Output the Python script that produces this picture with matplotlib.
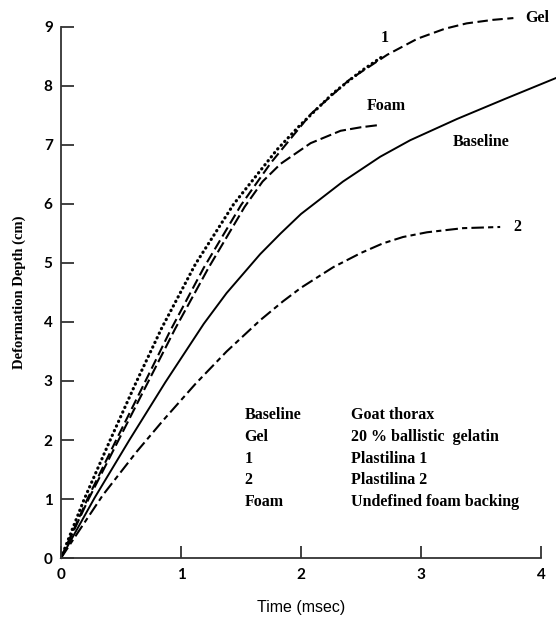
import matplotlib.pyplot as plt
import numpy as np

# values (time in msec, depth in cm)
base_t = [0, 0.28, 0.57, 0.87, 1.19, 1.38, 1.66, 1.83, 2.0, 2.35, 2.66, 2.91, 3.3, 3.7, 4.0, 4.12]
base_d = [0, 1.02, 2.0, 2.98, 3.97, 4.49, 5.15, 5.5, 5.83, 6.38, 6.8, 7.08, 7.44, 7.78, 8.03, 8.13]

gel_t = [0, 0.22, 0.46, 0.68, 0.91, 1.19, 1.5, 1.75, 2.08, 2.4, 2.72, 2.97, 3.2, 3.38, 3.6, 3.77]
gel_d = [0, 1.0, 2.0, 2.9, 3.85, 4.92, 5.98, 6.7, 7.52, 8.1, 8.53, 8.8, 8.97, 9.06, 9.12, 9.15]

p1_t = [0, 0.19, 0.41, 0.62, 0.84, 1.12, 1.44, 1.8, 1.99, 2.27, 2.5, 2.68]
p1_d = [0, 0.98, 2.0, 2.95, 3.9, 4.98, 6.0, 6.92, 7.33, 7.88, 8.25, 8.5]

p2_t = [0, 0.14, 0.35, 0.63, 0.85, 1.12, 1.38, 1.66, 1.85, 2.0, 2.27, 2.5, 2.68, 2.85, 3.05, 3.35, 3.66]
p2_d = [0, 0.43, 1.07, 1.8, 2.33, 2.95, 3.5, 4.03, 4.35, 4.58, 4.93, 5.17, 5.33, 5.44, 5.52, 5.59, 5.61]

foam_t = [0, 0.23, 0.48, 0.71, 0.95, 1.23, 1.53, 1.68, 1.83, 2.08, 2.33, 2.5, 2.66]
foam_d = [0, 1.0, 2.0, 2.92, 3.88, 4.92, 5.95, 6.38, 6.68, 7.03, 7.24, 7.3, 7.34]

legend_keys = ['Baseline', 'Gel', '1', '2', 'Foam']
legend_desc = ['Goat thorax', '20 % ballistic  gelatin', 'Plastilina 1',
               'Plastilina 2', 'Undefined foam backing']

fig = plt.figure(figsize=(5.56, 6.19), dpi=100)
ax = fig.add_axes([0.1097, 0.0985, 0.8633, 0.858])

ax.plot(base_t, base_d, color='black', lw=1.4, clip_on=False)
ax.plot(gel_t, gel_d, color='black', lw=1.5, linestyle=(0, (5, 2.2)), clip_on=False)
ax.plot(p1_t, p1_d, color='black', lw=2.3, linestyle=(0, (0.1, 1.5)),
        dash_capstyle='round')
ax.plot(p2_t, p2_d, color='black', lw=1.5, linestyle=(0, (6, 2, 2.5, 2)))
ax.plot(foam_t, foam_d, color='black', lw=1.5, linestyle=(0, (5.5, 2)))

serif = dict(family='Liberation Serif', weight='bold', fontsize=11.5)
ax.text(3.87, 9.15, 'Gel', ha='left', va='center', **serif)
ax.text(2.7, 8.81, '1', ha='center', va='center', **serif)
ax.text(2.71, 7.66, 'Foam', ha='center', va='center', **serif)
ax.text(3.5, 7.05, 'Baseline', ha='center', va='center', **serif)
ax.text(3.8, 5.61, '2', ha='center', va='center', **serif)

rows = [2.42, 2.05, 1.68, 1.32, 0.95]
for k, d, y in zip(legend_keys, legend_desc, rows):
    ax.text(1.53, y, k, ha='left', va='center', **serif)
    ax.text(2.42, y, d, ha='left', va='center', **serif)

ax.set_xlim(0, 4)
ax.set_ylim(0, 9)
ax.set_xticks(range(0, 5))
ax.set_yticks(range(0, 10))
for s in ['top', 'right']:
    ax.spines[s].set_visible(False)
for s in ['left', 'bottom']:
    ax.spines[s].set_color('#333333')
    ax.spines[s].set_linewidth(1.3)
ax.tick_params(direction='in', length=9, width=1.3, color='#333333')
for lab in ax.get_xticklabels() + ax.get_yticklabels():
    lab.set_fontfamily('Lato')
    lab.set_fontweight('bold')
    lab.set_fontsize(11)
ax.tick_params(axis='x', pad=7)
ax.tick_params(axis='y', pad=6)

ax.set_xlabel('Time (msec)', family='Liberation Sans', fontsize=11.5, labelpad=13)
ax.set_ylabel('Deformation Depth (cm)', family='Liberation Serif', weight='bold',
              fontsize=10.5, labelpad=13)

fig.savefig('out.png', dpi=100)
